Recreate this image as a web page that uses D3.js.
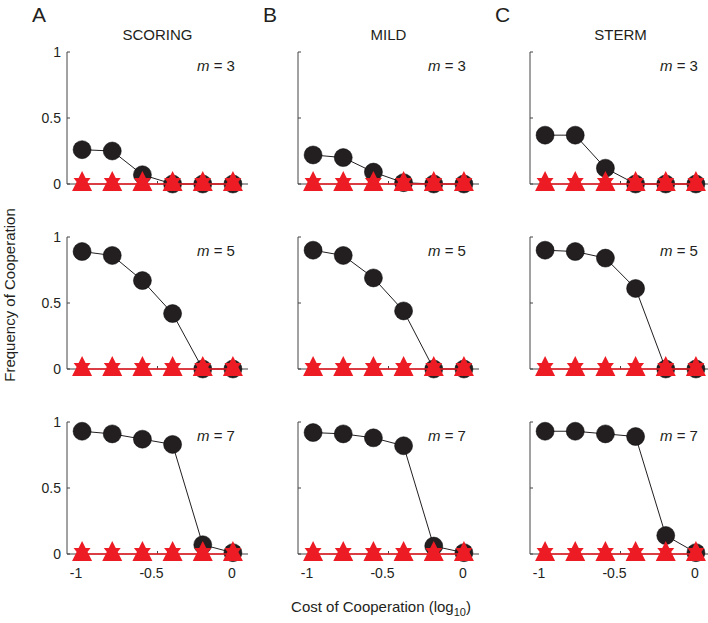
<!DOCTYPE html>
<html lang="en">
<head>
	<meta charset="UTF-8">
	<title>Frequency of Cooperation</title>
	<script src="https://cdn.jsdelivr.net/npm/d3@7"></script>
	<style>
		body { margin: 0; background: #fff; }
		text { font-family: "Liberation Sans", Arial, sans-serif; fill: #231f20; }
	</style>
</head>
<body>
	<svg id="grafico" width="708" height="623"></svg>
	<script>
	// log10 cost values (x) shared by every panel
	var costs = [-1, -0.8, -0.6, -0.4, -0.2, 0];
	var norms = ["SCORING", "MILD", "STERM"];
	var letters = ["A", "B", "C"];
	var mValues = [3, 5, 7];
	var xTicks = [-1, -0.5, 0];
	var yTicks = [0, 0.5, 1];

	// black circles, one row per m
	var scoring = [
		[0.26, 0.25, 0.07, 0, 0, 0],
		[0.89, 0.86, 0.67, 0.42, 0, 0],
		[0.93, 0.91, 0.87, 0.83, 0.07, 0.01]
	];
	var mild = [
		[0.22, 0.20, 0.09, 0.01, 0, 0],
		[0.90, 0.86, 0.69, 0.44, 0, 0],
		[0.92, 0.91, 0.88, 0.82, 0.06, 0.01]
	];
	var sterm = [
		[0.37, 0.37, 0.12, 0, 0, 0],
		[0.90, 0.89, 0.84, 0.61, 0, 0],
		[0.93, 0.93, 0.91, 0.89, 0.14, 0.01]
	];
	// red markers (all zero)
	var redSeries = [0, 0, 0, 0, 0, 0];

	var black = "#231f20", red = "#ed1c24";
	var colData = [scoring, mild, sterm];
	var panelLeft = [67, 298, 530];
	var panelTop = [52, 237, 422];
	var pw = 181, ph = 132;

	// up triangle with a smaller down triangle tucked into it
	var redShape = {
		draw: function (ctx) {
			ctx.moveTo(0, -13); ctx.lineTo(10, 7); ctx.lineTo(-10, 7); ctx.closePath();
			ctx.moveTo(-8.5, -6); ctx.lineTo(8.5, -6); ctx.lineTo(0, 5); ctx.closePath();
		}
	};

	var svg = d3.select("#grafico");

	for (var c = 0; c < 3; c++) {
		svg.append("text").attr("x", panelLeft[c] - 35).attr("y", 22)
			.style("font-size", "21px").text(letters[c]);
		svg.append("text").attr("x", panelLeft[c] + pw / 2).attr("y", 40)
			.attr("text-anchor", "middle").style("font-size", "15px").text(norms[c]);

		for (var r = 0; r < 3; r++) {
			var x = d3.scaleLinear().domain([-1.1, 0.1]).range([panelLeft[c], panelLeft[c] + pw]);
			var y = d3.scaleLinear().domain([0, 1]).range([panelTop[r] + ph, panelTop[r]]);
			var g = svg.append("g");
			var vals = colData[c][r];

			// axes
			g.append("line").attr("x1", x(-1.1)).attr("x2", x(-1.1))
				.attr("y1", y(1)).attr("y2", y(0)).attr("stroke", "#444").attr("stroke-width", 1);
			g.append("line").attr("x1", x(-1.1)).attr("x2", x(0.1))
				.attr("y1", y(0)).attr("y2", y(0)).attr("stroke", "#444").attr("stroke-width", 1);
			g.selectAll(".yt").data(yTicks).enter().append("line")
				.attr("x1", x(-1.1)).attr("x2", x(-1.1) + 3)
				.attr("y1", function (d) { return y(d); }).attr("y2", function (d) { return y(d); })
				.attr("stroke", "#444");
			g.selectAll(".xt").data(xTicks).enter().append("line")
				.attr("x1", function (d) { return x(d); }).attr("x2", function (d) { return x(d); })
				.attr("y1", y(0)).attr("y2", y(0) - 3).attr("stroke", "#444");

			if (c === 0) {
				g.selectAll(".yl").data(yTicks).enter().append("text")
					.attr("x", x(-1.1) - 6).attr("y", function (d) { return y(d) + 5; })
					.attr("text-anchor", "end").style("font-size", "14px")
					.text(function (d) { return d; });
			}
			if (r === 2) {
				g.selectAll(".xl").data(xTicks).enter().append("text")
					.attr("x", function (d) { return x(d) - (d < 0 ? 6 : 1); })
					.attr("y", y(0) + 24)
					.attr("text-anchor", "middle").style("font-size", "14px")
					.text(function (d) { return d; });
			}

			// m label
			var ml = g.append("text").attr("x", x(0) + 2).attr("y", y(1) + 19)
				.attr("text-anchor", "end").style("font-size", "15px");
			ml.append("tspan").style("font-style", "italic").text("m");
			ml.append("tspan").text(" = " + mValues[r]);

			// black series
			var line = d3.line().x(function (d, i) { return x(costs[i]); }).y(function (d) { return y(d); });
			g.append("path").datum(vals).attr("d", line)
				.attr("fill", "none").attr("stroke", black).attr("stroke-width", 1);
			g.selectAll(".dot").data(vals).enter().append("circle")
				.attr("cx", function (d, i) { return x(costs[i]); })
				.attr("cy", function (d) { return y(d); })
				.attr("r", 9).attr("fill", black).attr("stroke", "#000").attr("stroke-width", 0.5);

			// red series
			g.append("path").datum(redSeries).attr("d", line)
				.attr("fill", "none").attr("stroke", red).attr("stroke-width", 1.5);
			g.selectAll(".tri").data(redSeries).enter().append("path")
				.attr("d", d3.symbol().type(redShape))
				.attr("transform", function (d, i) { return "translate(" + x(costs[i]) + "," + y(d) + ")"; })
				.attr("fill", red);
		}
	}

	svg.append("text")
		.attr("transform", "translate(15,295) rotate(-90)")
		.attr("text-anchor", "middle").style("font-size", "15px")
		.text("Frequency of Cooperation");

	var xl = svg.append("text").attr("x", 381).attr("y", 612)
		.attr("text-anchor", "middle").style("font-size", "15px");
	xl.append("tspan").text("Cost of Cooperation (log");
	xl.append("tspan").attr("dy", 4).style("font-size", "11px").text("10");
	xl.append("tspan").attr("dy", -4).text(")");
	</script>
</body>
</html>
